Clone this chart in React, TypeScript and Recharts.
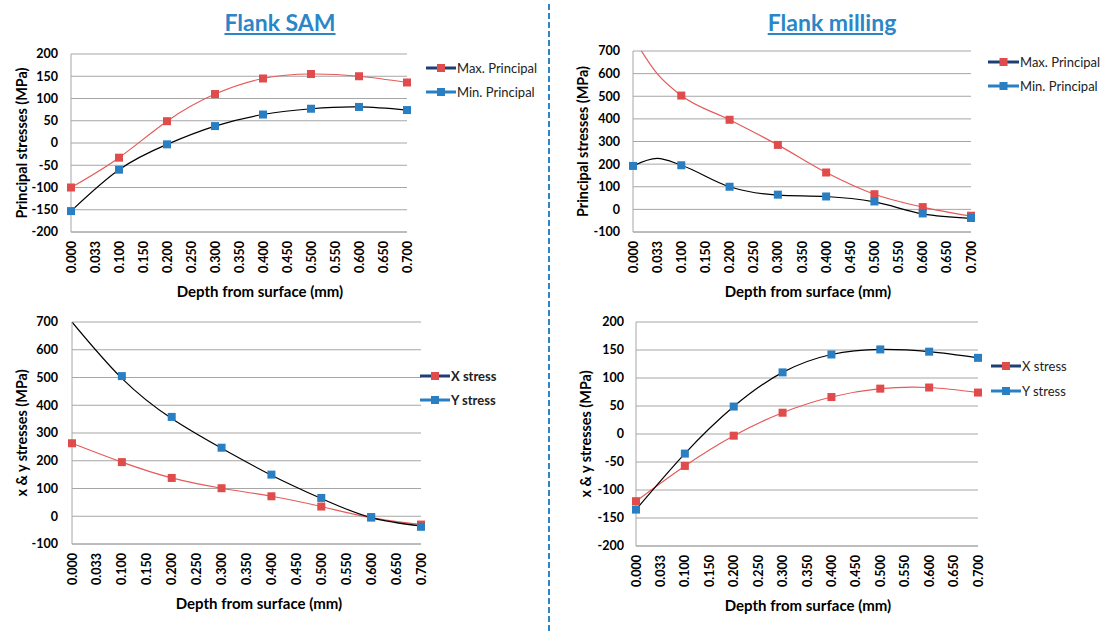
import React from "react"
import { LineChart, Line, XAxis, YAxis, CartesianGrid } from "recharts"

const FONT = "Lato, 'Open Sans', sans-serif"

const depthLabels = [
    "0.000", "0.033", "0.100", "0.150", "0.200", "0.250", "0.300", "0.350",
    "0.400", "0.450", "0.500", "0.550", "0.600", "0.650", "0.700",
]

// Flank SAM - principal stresses (MPa)
const samMaxPrincipal = [-100, null, -33, null, 49, null, 110, null, 145, null, 155, null, 150, null, 136]
const samMinPrincipal = [-153, null, -60, null, -3, null, 38, null, 64, null, 77, null, 81, null, 74]

// Flank milling - principal stresses (MPa); the smoothed curves run past the markers
const millMaxPrincipal = [null, null, 503, null, 396, null, 285, null, 163, null, 67, null, 10, null, -28]
const millMaxCurve = [760, 600, 503, null, 396, null, 285, null, 163, null, 67, null, 10, null, -30]
const millMinPrincipal = [192, null, 195, null, 100, null, 65, null, 57, null, 35, null, -18, null, -38]
const millMinCurve = [192, 225, 195, null, 100, null, 63, null, 57, null, 33, null, -20, null, -40]

// Flank SAM - x & y stresses (MPa)
const samXStress = [263, null, 195, null, 138, null, 101, null, 72, null, 35, null, -5, null, -30]
const samYStress = [null, null, 505, null, 358, null, 247, null, 150, null, 66, null, -3, null, -38]
const samYCurve = [700, null, 497, null, 352, null, 245, null, 148, null, 64, null, -5, null, -35]

// Flank milling - x & y stresses (MPa)
const millXStress = [-120, null, -57, null, -3, null, 38, null, 66, null, 81, null, 83, null, 74]
const millYStress = [-135, null, -35, null, 49, null, 110, null, 142, null, 151, null, 147, null, 136]

const ticksPm200 = [-200, -150, -100, -50, 0, 50, 100, 150, 200]
const ticksM100to700 = [-100, 0, 100, 200, 300, 400, 500, 600, 700]

const RED = "#e04b4b"
const RED_LINE = "#e55a5a"
const BLUE = "#2a7ec2"
const NAVY = "#1f3f73"
const GRID = "#a6a6a6"
const TITLE_BLUE = "#2b86c8"

type Series = {
    key: string
    values: (number | null)[]
    color: string
    kind: "curve" | "marker"
    curve?: "natural" | "monotone"
}

type Box = { cL: number; cT: number; pL: number; pT: number; pR: number; pB: number }

const squareDot = (color: string) => (props: any) => {
    const { cx, cy, index } = props
    if (cx == null || cy == null || props.value == null) return <g key={`e${index}`} />
    return <rect key={`m${index}`} x={cx - 4} y={cy - 4} width={8} height={8} fill={color} />
}

const XTick = (props: any) => {
    const { x, y, payload } = props
    return (
        <g transform={`translate(${x},${y + 9})`}>
            <text transform="rotate(-90)" textAnchor="end" dy="0.36em" fontSize={12.5} fontWeight={700} fill="#000" fontFamily={FONT}>
                {payload.value}
            </text>
        </g>
    )
}

function StressChart({
    box, domain, ticks, yLabel, yLabelX, xLabelX, tickGap, series,
}: {
    box: Box
    domain: [number, number]
    ticks: number[]
    yLabel: string
    yLabelX: number
    xLabelX: number
    tickGap: number
    series: Series[]
}) {
    const W = box.pR - box.cL + 13
    const H = box.pB - box.cT + 78
    const rows = depthLabels.map((d, i) => {
        const row: Record<string, any> = { depth: d }
        series.forEach((s) => (row[s.key] = s.values[i]))
        return row
    })
    const yMid = (box.pT + box.pB) / 2 - box.cT
    return (
        <div style={{ position: "absolute", left: box.cL, top: box.cT }}>
            <LineChart
                width={W}
                height={H}
                data={rows}
                margin={{ top: box.pT - box.cT, right: 13, left: 0, bottom: 0 }}
                style={{ fontFamily: FONT }}
            >
                <CartesianGrid vertical={false} stroke={GRID} strokeWidth={1} />
                <XAxis
                    dataKey="depth"
                    interval={0}
                    height={78}
                    tickLine={false}
                    tickSize={0}
                    tickMargin={0}
                    axisLine={{ stroke: GRID }}
                    tick={<XTick />}
                    label={{
                        content: () => (
                            <text
                                x={xLabelX - box.cL}
                                y={box.pB + 59 - box.cT}
                                textAnchor="middle"
                                dominantBaseline="central"
                                fontSize={15}
                                fontWeight={700}
                                fill="#000"
                                fontFamily={FONT}
                            >
                                Depth from surface (mm)
                            </text>
                        ),
                    }}
                />
                <YAxis
                    type="number"
                    width={box.pL - box.cL}
                    domain={domain}
                    ticks={ticks}
                    interval={0}
                    allowDataOverflow
                    tickLine={false}
                    tickSize={0}
                    tickMargin={tickGap}
                    axisLine={{ stroke: GRID }}
                    tick={{ fontSize: 12.5, fontWeight: 700, fill: "#000", fontFamily: FONT }}
                    label={{
                        content: () => (
                            <text
                                x={yLabelX - box.cL}
                                y={yMid}
                                transform={`rotate(-90, ${yLabelX - box.cL}, ${yMid})`}
                                textAnchor="middle"
                                dominantBaseline="central"
                                fontSize={14.4}
                                fontWeight={700}
                                fill="#000"
                                fontFamily={FONT}
                            >
                                {yLabel}
                            </text>
                        ),
                    }}
                />
                {series.map((s) =>
                    s.kind === "curve" ? (
                        <Line
                            key={s.key}
                            dataKey={s.key}
                            type={s.curve ?? "natural"}
                            stroke={s.color}
                            strokeWidth={1.2}
                            dot={false}
                            activeDot={false}
                            connectNulls
                            isAnimationActive={false}
                        />
                    ) : (
                        <Line
                            key={s.key}
                            dataKey={s.key}
                            stroke="none"
                            dot={squareDot(s.color)}
                            activeDot={false}
                            isAnimationActive={false}
                        />
                    )
                )}
            </LineChart>
        </div>
    )
}

function LegendBlock({
    x0, x1, rows, names, bold,
}: { x0: number; x1: number; rows: number[]; names: string[]; bold?: boolean }) {
    const lineColors = [NAVY, BLUE]
    const markColors = [RED, BLUE]
    const w = x1 - x0
    return (
        <>
            {names.map((n, i) => (
                <div
                    key={n}
                    style={{
                        position: "absolute", left: x0, top: rows[i] - 8, height: 16,
                        display: "flex", alignItems: "center", whiteSpace: "nowrap",
                    }}
                >
                    <svg width={w} height={10}>
                        <line x1={0} x2={w} y1={5} y2={5} stroke={lineColors[i]} strokeWidth={3} />
                        <rect x={w / 2 - 4} y={1} width={8} height={8} fill={markColors[i]} />
                    </svg>
                    <span style={{ fontSize: 13, lineHeight: "16px", marginLeft: 1, color: "#222", fontWeight: bold ? 700 : 400 }}>{n}</span>
                </div>
            ))}
        </>
    )
}

function Title({ cx, text }: { cx: number; text: string }) {
    return (
        <div
            style={{
                position: "absolute", left: cx, top: 11, transform: "translateX(-50%)",
                fontSize: 23, lineHeight: "23px", fontWeight: 700, color: TITLE_BLUE,
                textDecoration: "underline", textUnderlineOffset: 2, textDecorationThickness: 1.5,
                whiteSpace: "nowrap",
            }}
        >
            {text}
        </div>
    )
}

export default function App() {
    return (
        <div style={{ position: "absolute", left: 0, top: 0, width: 1101, height: 632, background: "#fff", fontFamily: FONT, overflow: "hidden" }}>
            <Title cx={280} text="Flank SAM" />
            <Title cx={832} text="Flank milling" />
            <svg style={{ position: "absolute", left: 545, top: 0 }} width={8} height={632}>
                <line x1={4} x2={4} y1={4} y2={632} stroke={TITLE_BLUE} strokeWidth={2} strokeDasharray="6 3" />
            </svg>

            <StressChart
                box={{ cL: 0, cT: 40, pL: 71, pT: 54, pR: 407, pB: 232 }}
                domain={[-200, 200]}
                ticks={ticksPm200}
                yLabel="Principal stresses (MPa)"
                yLabelX={21}
                xLabelX={260}
                tickGap={13}
                series={[
                    { key: "maxCurve", values: samMaxPrincipal, color: RED_LINE, kind: "curve" },
                    { key: "minCurve", values: samMinPrincipal, color: "#000", kind: "curve" },
                    { key: "max", values: samMaxPrincipal, color: RED, kind: "marker" },
                    { key: "min", values: samMinPrincipal, color: BLUE, kind: "marker" },
                ]}
            />
            <LegendBlock x0={426} x1={456} rows={[68, 92]} names={["Max. Principal", "Min. Principal"]} />

            <StressChart
                box={{ cL: 560, cT: 40, pL: 633, pT: 51, pR: 971, pB: 232 }}
                domain={[-100, 700]}
                ticks={ticksM100to700}
                yLabel="Principal stresses (MPa)"
                yLabelX={582}
                xLabelX={808}
                tickGap={13}
                series={[
                    { key: "maxCurve", values: millMaxCurve, color: RED_LINE, kind: "curve", curve: "monotone" },
                    { key: "minCurve", values: millMinCurve, color: "#000", kind: "curve", curve: "monotone" },
                    { key: "max", values: millMaxPrincipal, color: RED, kind: "marker" },
                    { key: "min", values: millMinPrincipal, color: BLUE, kind: "marker" },
                ]}
            />
            <LegendBlock x0={988} x1={1019} rows={[62, 86]} names={["Max. Principal", "Min. Principal"]} />

            <StressChart
                box={{ cL: 0, cT: 310, pL: 72, pT: 322, pR: 421, pB: 544 }}
                domain={[-100, 700]}
                ticks={ticksM100to700}
                yLabel="x & y stresses (MPa)"
                yLabelX={21}
                xLabelX={259}
                tickGap={14}
                series={[
                    { key: "xCurve", values: samXStress, color: RED_LINE, kind: "curve" },
                    { key: "yCurve", values: samYCurve, color: "#000", kind: "curve" },
                    { key: "x", values: samXStress, color: RED, kind: "marker" },
                    { key: "y", values: samYStress, color: BLUE, kind: "marker" },
                ]}
            />
            <LegendBlock x0={420} x1={450} rows={[376, 400]} names={["X stress", "Y stress"]} bold />

            <StressChart
                box={{ cL: 560, cT: 310, pL: 636, pT: 322, pR: 978, pB: 546 }}
                domain={[-200, 200]}
                ticks={ticksPm200}
                yLabel="x & y stresses (MPa)"
                yLabelX={585}
                xLabelX={808}
                tickGap={12}
                series={[
                    { key: "xCurve", values: millXStress, color: RED_LINE, kind: "curve" },
                    { key: "yCurve", values: millYStress, color: "#000", kind: "curve" },
                    { key: "x", values: millXStress, color: RED, kind: "marker" },
                    { key: "y", values: millYStress, color: BLUE, kind: "marker" },
                ]}
            />
            <LegendBlock x0={991} x1={1021} rows={[366, 391]} names={["X stress", "Y stress"]} />
        </div>
    )
}
